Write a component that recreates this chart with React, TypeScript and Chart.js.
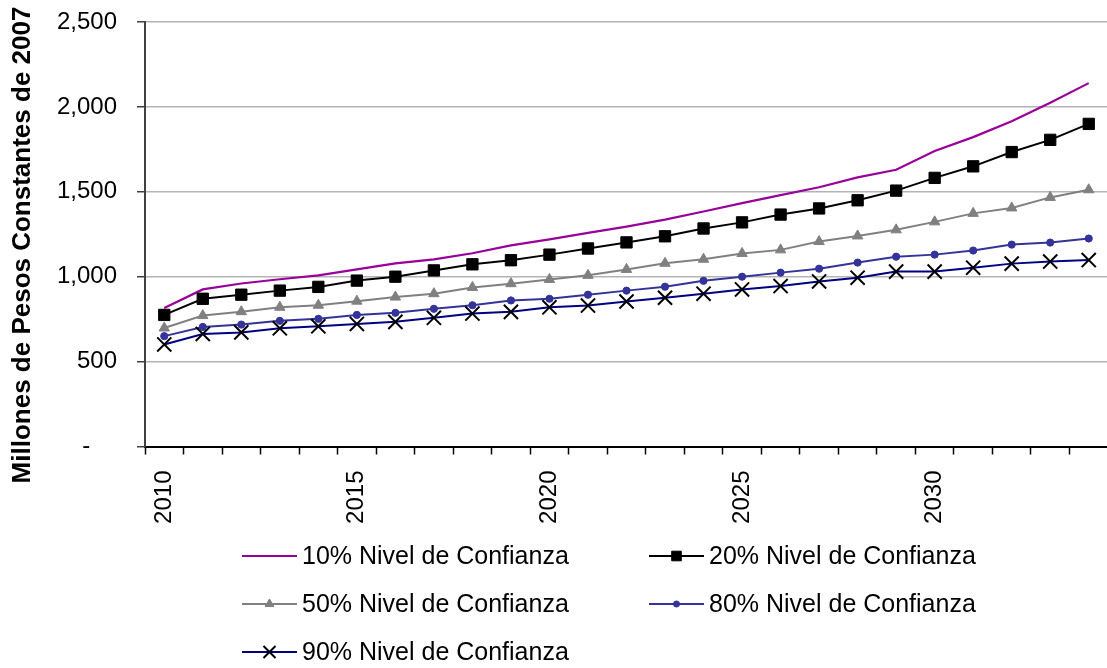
import React, { useEffect, useRef } from "react";
import { Chart, registerables } from "chart.js";
import { drawPoint } from "chart.js/helpers";

Chart.register(...registerables);

const years = [
  "2010", "2011", "2012", "2013", "2014", "2015", "2016", "2017", "2018", "2019",
  "2020", "2021", "2022", "2023", "2024", "2025", "2026", "2027", "2028", "2029",
  "2030", "2031", "2032", "2033", "2034",
];

const p10 = [815, 925, 960, 985, 1008, 1043, 1078, 1102, 1138, 1184, 1220, 1258, 1295, 1336, 1384, 1433, 1480, 1527, 1585, 1630, 1740, 1822, 1915, 2025, 2140];
const p20 = [775, 870, 894, 918, 940, 977, 1000, 1037, 1073, 1097, 1130, 1166, 1202, 1238, 1284, 1320, 1366, 1402, 1450, 1507, 1582, 1650, 1734, 1806, 1900];
const p50 = [698, 771, 794, 820, 832, 856, 880, 900, 937, 959, 984, 1008, 1043, 1079, 1103, 1137, 1158, 1207, 1240, 1276, 1323, 1373, 1405, 1467, 1512];
const p80 = [650, 704, 718, 740, 752, 775, 787, 811, 832, 860, 870, 894, 918, 941, 976, 1000, 1024, 1047, 1083, 1118, 1130, 1154, 1189, 1201, 1225];
const p90 = [601, 663, 672, 696, 708, 722, 734, 758, 783, 793, 820, 830, 854, 876, 900, 925, 945, 972, 994, 1030, 1030, 1053, 1077, 1089, 1098];

const seriesNames = [
  "10% Nivel de Confianza",
  "20% Nivel de Confianza",
  "50% Nivel de Confianza",
  "80% Nivel de Confianza",
  "90% Nivel de Confianza",
];

const yTitle = "Millones de Pesos Constantes de 2007";

const FONT = "'Liberation Sans', Arial, Helvetica, sans-serif";

const CANVAS_W = 1120;
const CANVAS_H = 668;

const legendPlugin = {
  id: "customLegend",
  afterDraw(chart: any) {
    const ctx = chart.ctx;
    // y-axis title
    ctx.save();
    ctx.translate(23, 245);
    ctx.rotate(-Math.PI / 2);
    ctx.font = `bold 26px ${FONT}`;
    ctx.fillStyle = "#000";
    ctx.textAlign = "center";
    ctx.textBaseline = "middle";
    ctx.fillText(yTitle, 0, 0);
    ctx.restore();

    // legend
    const cols = [242, 649];
    const rows = [556, 604, 652];
    chart.data.datasets.forEach((ds: any, i: number) => {
      const x = cols[i % 2];
      const y = rows[Math.floor(i / 2)];
      ctx.save();
      ctx.strokeStyle = ds.borderColor;
      ctx.lineWidth = ds.borderWidth;
      ctx.beginPath();
      ctx.moveTo(x, y);
      ctx.lineTo(x + 55, y);
      ctx.stroke();
      if (ds.pointRadius > 0) {
        ctx.fillStyle = ds.pointBackgroundColor;
        ctx.strokeStyle = ds.pointBorderColor;
        ctx.lineWidth = ds.pointBorderWidth;
        drawPoint(ctx, { pointStyle: ds.pointStyle, rotation: 0, radius: ds.pointRadius * 0.85, borderWidth: ds.pointBorderWidth }, x + 27.5, y);
      }
      ctx.fillStyle = "#000";
      ctx.font = `25px ${FONT}`;
      ctx.textAlign = "left";
      ctx.textBaseline = "alphabetic";
      ctx.fillText(ds.label, x + 60, y + 7.5);
      ctx.restore();
    });
  },
};

export default function App() {
  const ref = useRef<HTMLCanvasElement>(null);

  useEffect(() => {
    if (!ref.current) return;
    Chart.defaults.font.family = FONT;
    const mk = (i: number, data: number[], color: string, extra: any) => ({
      label: seriesNames[i],
      data,
      borderColor: color,
      borderWidth: 2,
      tension: 0,
      fill: false,
      ...extra,
    });
    const chart = new Chart(ref.current, {
      type: "line",
      data: {
        labels: years,
        datasets: [
          mk(0, p10, "#990099", { pointRadius: 0, pointStyle: "circle", borderWidth: 2.2, order: 5 }),
          mk(1, p20, "#000000", {
            pointStyle: "rect", pointRadius: 8, pointBackgroundColor: "#000", pointBorderColor: "#000", pointBorderWidth: 1, order: 4,
          }),
          mk(2, p50, "#808080", {
            pointStyle: "triangle", pointRadius: 6, pointBackgroundColor: "#808080", pointBorderColor: "#808080", pointBorderWidth: 1, order: 3,
          }),
          mk(3, p80, "#333399", {
            pointStyle: "circle", pointRadius: 3.6, pointBackgroundColor: "#333399", pointBorderColor: "#333399", pointBorderWidth: 1, order: 2,
          }),
          mk(4, p90, "#000080", {
            pointStyle: "crossRot", pointRadius: 10, pointBackgroundColor: "#000", pointBorderColor: "#000", pointBorderWidth: 2, order: 1,
          }),
        ],
      },
      options: {
        animation: false,
        responsive: false,
        maintainAspectRatio: false,
        events: [],
        layout: { padding: { top: 22, left: 0, right: 0, bottom: 0 } },
        plugins: {
          legend: { display: false },
          tooltip: { enabled: false },
          title: { display: false },
        },
        scales: {
          x: {
            type: "category",
            offset: true,
            grid: {
              offset: true,
              drawOnChartArea: false,
              drawTicks: true,
              tickLength: 8,
              tickColor: "#000",
              tickWidth: 1.5,
            },
            border: { display: true, color: "#000", width: 2 },
            ticks: {
              autoSkip: false,
              maxRotation: 90,
              minRotation: 90,
              padding: 16,
              color: "#000",
              font: { size: 24 },
              callback: function (this: any, _v: any, idx: number) {
                const y = Number(years[idx]);
                return y % 5 === 0 ? years[idx] : "";
              },
            },
            afterFit: (scale: any) => {
              scale.height = CANVAS_H - 446.5;
              scale.paddingLeft = 0;
              scale.paddingRight = 0;
            },
          },
          y: {
            min: 0,
            max: 2500,
            ticks: {
              stepSize: 500,
              padding: 20,
              color: "#000",
              font: { size: 24 },
              callback: (v: any) => (Number(v) === 0 ? "-    " : Number(v).toLocaleString("en-US")),
            },
            grid: {
              color: "#b4b4b4",
              lineWidth: 1.5,
              tickColor: "#404040",
              tickLength: 8,
              tickWidth: 1.5,
            },
            border: { display: true, color: "#404040", width: 2 },
            afterFit: (scale: any) => {
              scale.width = 145;
              scale.paddingTop = 0;
              scale.paddingBottom = 0;
            },
          },
        },
      },
      plugins: [legendPlugin],
    });
    return () => chart.destroy();
  }, []);

  return (
    <div style={{ position: "fixed", left: 0, top: 0, width: 1107, height: 668, overflow: "hidden", background: "#fff" }}>
      <canvas ref={ref} width={CANVAS_W} height={CANVAS_H} style={{ width: CANVAS_W, height: CANVAS_H, display: "block" }} />
    </div>
  );
}
